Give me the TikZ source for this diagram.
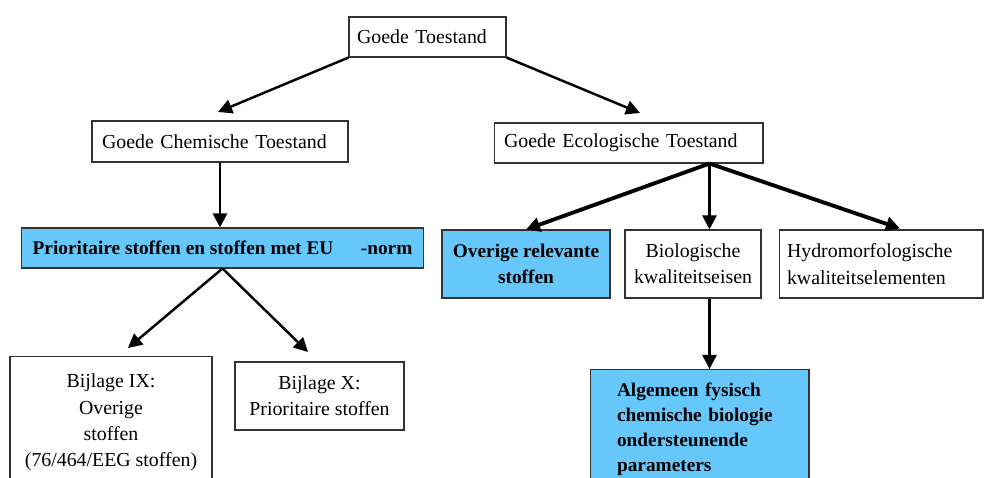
\documentclass[tikz,border=0pt]{standalone}
\usepackage{fontspec}
\setmainfont{Liberation Serif}
\usetikzlibrary{arrows.meta,calc}
\definecolor{lichtblauw}{RGB}{102,200,250}
\begin{document}
\begin{tikzpicture}[x=0.02cm,y=-0.02cm,
    vak/.style={draw=black!80,line width=0.6pt,fill=white,inner sep=0pt,align=center,
      font=\fontsize{11.3}{15}\selectfont},
    blauwvak/.style={vak,fill=lichtblauw,font=\fontsize{11}{15}\selectfont\bfseries},
    pijl/.style={line width=1.4pt,-{Triangle[length=8pt,width=8pt]}},
    dikkepijl/.style={pijl,line width=2.2pt}]
  \useasboundingbox (0,0) rectangle (987,477);
  \clip (0,0) rectangle (987,477);
%   bovenste laag
  \node[vak,text width=2.82cm,inner xsep=0.16cm,align=left,minimum height=0.8cm] (goed) at (427.5,37) {Goede Toestand};
  \node[vak,text width=4.72cm,inner xsep=0.2cm,align=left,minimum height=0.82cm] (chem) at (220,141.5) {Goede Chemische Toestand};
  \node[vak,text width=4.98cm,inner xsep=0.2cm,align=left,minimum height=0.8cm] (eco) at (628.5,143) {Goede Ecologische Toestand};
%   chemische tak
  \node[blauwvak,minimum width=8.06cm,minimum height=0.8cm] (prio) at (222.5,248) {Prioritaire stoffen en stoffen met EU\hspace{0.55cm}-norm};
  \node[vak,anchor=north,minimum width=4.04cm,minimum height=2.64cm] (bijl9) at (111,356) {Bijlage IX:\\Overige\\stoffen\\(76/464/EEG stoffen)};
  \node[vak,minimum width=3.38cm,minimum height=1.36cm] (bijl10) at (319.5,396) {Bijlage X:\\Prioritaire stoffen};
%   ecologische tak
  \node[blauwvak,minimum width=3.36cm,minimum height=1.36cm] (overig) at (526,264) {Overige relevante\\stoffen};
  \node[vak,minimum width=2.72cm,minimum height=1.36cm] (bio) at (693,264) {Biologische\\kwaliteitseisen};
  \node[vak,text width=3.76cm,inner xsep=0.16cm,align=left,minimum height=1.36cm] (hydro) at (881,264) {Hydromorfologische\\kwaliteitselementen};
  \node[blauwvak,anchor=north,text width=3.3cm,inner xsep=0.54cm,align=left,minimum height=2.4cm,
    font=\fontsize{11}{14.2}\selectfont\bfseries] (alg) at (699.5,369) {Algemeen fysisch\\chemische biologie\\ondersteunende\\parameters};
%   pijlpunten
  \coordinate (punt1) at (218,112);
  \coordinate (punt2) at (640,113);
  \coordinate (punt3) at (128,348);
  \coordinate (punt4) at (308,352);
  \coordinate (ecovoet) at ($(eco.south west)!0.8!(eco.south east)$);
  \coordinate (punt5) at ($(hydro.north)+(19,-1)$);
  \draw[pijl] (goed.south west) -- (punt1);
  \draw[pijl] (goed.south east) -- (punt2);
  \draw[pijl] (chem.south) -- (chem.south |- prio.north);
  \draw[pijl] (prio.south) -- (punt3);
  \draw[pijl] (prio.south) -- (punt4);
  \draw[dikkepijl] (ecovoet) -- (overig.north);
  \draw[pijl] (ecovoet) -- (ecovoet |- bio.north);
  \draw[dikkepijl] (ecovoet) -- (punt5);
  \draw[pijl] (ecovoet |- bio.south) -- (ecovoet |- alg.north);
\end{tikzpicture}
\end{document}
